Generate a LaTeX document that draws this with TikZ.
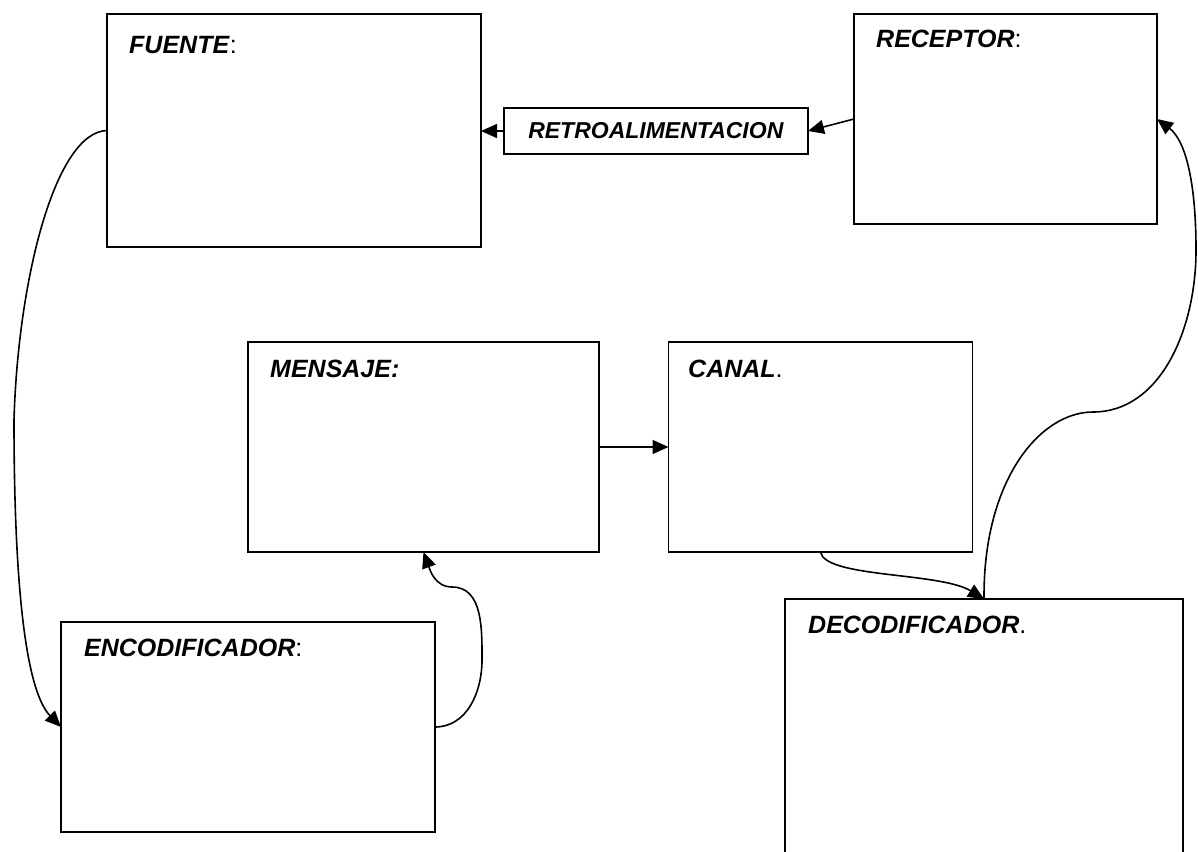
\documentclass[tikz,border=0pt]{standalone}
\usepackage{fontspec}
\setmainfont{Liberation Sans}
\usetikzlibrary{arrows.meta}
\tikzset{
  box/.style={draw, rectangle, line width=1.9pt, inner sep=0pt, outer sep=0pt, fill=none},
  boxtitle/.style={anchor=base west, inner sep=0pt, font=\fontsize{25}{30}\selectfont},
  arr/.style={-{Triangle[length=16pt,width=14pt]}, line width=1.6pt},
}
\begin{document}
\begin{tikzpicture}[x=1pt,y=-1pt]
\useasboundingbox (0,0) rectangle (1198,851);
\clip (0,0) rectangle (1198,851);
\fill[white] (0,0) rectangle (1198,851);
% boxes
\node[box, minimum width=374pt, minimum height=233pt] (fuente) at (294,130.5) {};
\node[box, minimum width=303pt, minimum height=210pt] (receptor) at (1005.5,119) {};
\node[box, minimum width=304pt, minimum height=46pt, font=\fontsize{23}{28}\selectfont] (retro) at (656,131) {\textbf{\textit{RETROALIMENTACION}}};
\node[box, minimum width=351pt, minimum height=210pt] (mensaje) at (423.5,447) {};
\node[box, minimum width=304pt, minimum height=210pt] (canal) at (820.5,447) {};
\node[box, minimum width=374pt, minimum height=210pt] (encod) at (248,727) {};
\node[box, minimum width=398pt, minimum height=401pt] (decod) at (984,799.5) {};
% titles
\node[boxtitle] (tfuente) at (129,53) {\textbf{\textit{FUENTE}}:};
\node[boxtitle] (treceptor) at (876,48) {\textbf{\textit{RECEPTOR}}:};
\node[boxtitle] (tmensaje) at (270,377) {\textbf{\textit{MENSAJE:}}};
\node[boxtitle] (tcanal) at (688,377) {\textbf{\textit{CANAL}}.};
\node[boxtitle] (tencod) at (84,656) {\textbf{\textit{ENCODIFICADOR}}:};
\node[boxtitle] (tdecod) at (808,633) {\textbf{\textit{DECODIFICADOR}}.};
% connectors
\draw[arr] (retro.west) -- (retro.west -| fuente.east);
\draw[arr] (receptor.west) -- (retro.east);
\draw[arr] (mensaje.east) -- (canal.west);
\draw[arr] (fuente.west) .. controls (55,132) and (18,280) .. (14,420)
  .. controls (14,580) and (25,690) .. (encod.west);
\draw[arr] (encod.east) to[out=0,in=-90] (482,660) to[out=90,in=0] (452,587) to[out=180,in=-70] (mensaje.south);
\draw[arr] (canal.south) .. controls (825,578) and (940,572) .. (decod.north);
\draw[arr] (decod.north) .. controls (983,480) and (1040,412) .. (1093,412)
  .. controls (1160,412) and (1196,330) .. (1196,250)
  .. controls (1196,180) and (1185,140) .. (receptor.east);
\end{tikzpicture}
\end{document}
